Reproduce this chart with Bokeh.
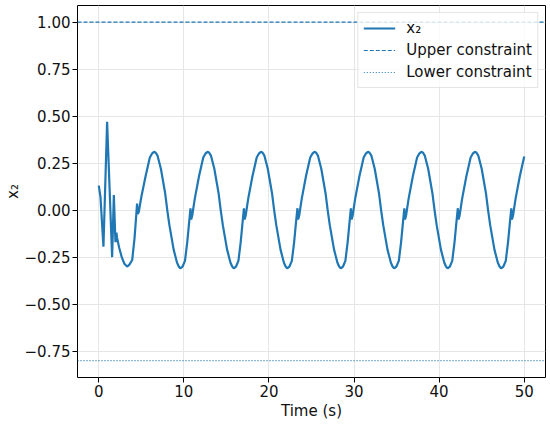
from bokeh.plotting import figure
from bokeh.models import FixedTicker, CustomJSTickFormatter, Legend, LegendItem
from bokeh.embed import file_html
from bokeh.resources import INLINE

# ---- data ----
t_start = [0.00, 0.20, 0.55, 0.98, 1.57, 1.77, 1.96, 2.08, 2.14, 2.40, 2.70, 3.00, 3.33, 3.60, 3.93, 4.20, 4.40]
x2_start = [0.13, 0.07, -0.195, 0.47, -0.25, 0.08, -0.17, -0.12, -0.145, -0.20, -0.25, -0.285, -0.30, -0.29, -0.265, -0.15, -0.03]

t_c0 = [4.50, 4.58, 4.70, 5.00, 5.50, 6.00, 6.25, 6.50, 6.70, 6.90, 7.30, 7.80, 8.05, 8.30, 8.80, 9.20, 9.40, 9.58, 9.85, 10.13, 10.40, 10.63]
x2_c0 = [0.035, -0.02, -0.01, 0.07, 0.18, 0.28, 0.30, 0.31, 0.305, 0.29, 0.22, 0.09, 0.00, -0.08, -0.21, -0.28, -0.30, -0.31, -0.30, -0.27, -0.17, -0.06]

t_c1 = [10.78, 10.86, 10.98, 11.28, 11.78, 12.28, 12.53, 12.78, 12.98, 13.18, 13.58, 14.08, 14.33, 14.58, 15.08, 15.48, 15.68, 15.86, 16.13, 16.41, 16.68, 16.91]
x2_c1 = [0.01, -0.05, -0.03, 0.06, 0.18, 0.28, 0.30, 0.31, 0.305, 0.29, 0.22, 0.09, 0.00, -0.08, -0.21, -0.28, -0.30, -0.31, -0.30, -0.27, -0.17, -0.06]

t_c2 = [17.06, 17.14, 17.26, 17.56, 18.06, 18.56, 18.81, 19.06, 19.26, 19.46, 19.86, 20.36, 20.61, 20.86, 21.36, 21.76, 21.96, 22.14, 22.41, 22.69, 22.96, 23.19]
x2_c2 = [0.01, -0.05, -0.03, 0.06, 0.18, 0.28, 0.30, 0.31, 0.305, 0.29, 0.22, 0.09, 0.00, -0.08, -0.21, -0.28, -0.30, -0.31, -0.30, -0.27, -0.17, -0.06]

t_c3 = [23.35, 23.43, 23.55, 23.85, 24.35, 24.85, 25.10, 25.35, 25.55, 25.75, 26.15, 26.65, 26.90, 27.15, 27.65, 28.05, 28.25, 28.43, 28.70, 28.98, 29.25, 29.48]
x2_c3 = [0.01, -0.05, -0.03, 0.06, 0.18, 0.28, 0.30, 0.31, 0.305, 0.29, 0.22, 0.09, 0.00, -0.08, -0.21, -0.28, -0.30, -0.31, -0.30, -0.27, -0.17, -0.06]

t_c4 = [29.63, 29.71, 29.83, 30.13, 30.63, 31.13, 31.38, 31.63, 31.83, 32.03, 32.43, 32.93, 33.18, 33.43, 33.93, 34.33, 34.53, 34.71, 34.98, 35.26, 35.53, 35.76]
x2_c4 = [0.01, -0.05, -0.03, 0.06, 0.18, 0.28, 0.30, 0.31, 0.305, 0.29, 0.22, 0.09, 0.00, -0.08, -0.21, -0.28, -0.30, -0.31, -0.30, -0.27, -0.17, -0.06]

t_c5 = [35.91, 35.99, 36.11, 36.41, 36.91, 37.41, 37.66, 37.91, 38.11, 38.31, 38.71, 39.21, 39.46, 39.71, 40.21, 40.61, 40.81, 40.99, 41.26, 41.54, 41.81, 42.04]
x2_c5 = [0.01, -0.05, -0.03, 0.06, 0.18, 0.28, 0.30, 0.31, 0.305, 0.29, 0.22, 0.09, 0.00, -0.08, -0.21, -0.28, -0.30, -0.31, -0.30, -0.27, -0.17, -0.06]

t_c6 = [42.20, 42.28, 42.40, 42.70, 43.20, 43.70, 43.95, 44.20, 44.40, 44.60, 45.00, 45.50, 45.75, 46.00, 46.50, 46.90, 47.10, 47.28, 47.55, 47.83, 48.10, 48.33]
x2_c6 = [0.01, -0.05, -0.03, 0.06, 0.18, 0.28, 0.30, 0.31, 0.305, 0.29, 0.22, 0.09, 0.00, -0.08, -0.21, -0.28, -0.30, -0.31, -0.30, -0.27, -0.17, -0.06]

t_end = [48.48, 48.56, 48.68, 48.98, 49.48, 50.00]
x2_end = [0.01, -0.05, -0.03, 0.06, 0.18, 0.285]

upper_constraint = 1.0
lower_constraint = -0.8

x_ticks = [0, 10, 20, 30, 40, 50]
y_ticks = [-0.75, -0.50, -0.25, 0.00, 0.25, 0.50, 0.75, 1.00]
x_label = "Time (s)"
y_label = "x\u2082"

t = t_start + t_c0 + t_c1 + t_c2 + t_c3 + t_c4 + t_c5 + t_c6 + t_end
x2 = x2_start + x2_c0 + x2_c1 + x2_c2 + x2_c3 + x2_c4 + x2_c5 + x2_c6 + x2_end

BLUE = "#1f77b4"
FONT = "DejaVu Sans"

p = figure(frame_width=468, frame_height=372, x_range=(-2.5, 52.5), y_range=(-0.89, 1.088),
           output_backend="svg", toolbar_location=None,
           min_border_left=77, min_border_right=5, min_border_top=5, min_border_bottom=47)

p.background_fill_color = "white"
p.outline_line_color = "black"
p.outline_line_width = 1

r_x2 = p.line(t, x2, line_color=BLUE, line_width=2.2)
r_up = p.line([-2.5, 52.5], [upper_constraint, upper_constraint], line_color=BLUE, line_width=1.2, line_dash="4 2")
r_lo = p.line([-2.5, 52.5], [lower_constraint, lower_constraint], line_color=BLUE, line_width=1.2, line_dash="1 2")

for ax in (p.xaxis[0], p.yaxis[0]):
    ax.axis_line_color = None
    ax.major_tick_line_color = "black"
    ax.major_tick_out = 5
    ax.major_tick_in = 0
    ax.minor_tick_line_color = None
    ax.major_label_text_font = FONT
    ax.major_label_text_font_size = "15px"
    ax.major_label_text_color = "#111111"
    ax.axis_label_text_font = FONT
    ax.axis_label_text_font_size = "15px"
    ax.axis_label_text_font_style = "normal"
    ax.axis_label_text_color = "#111111"

p.xaxis.ticker = FixedTicker(ticks=x_ticks)
p.yaxis.ticker = FixedTicker(ticks=y_ticks)
p.yaxis.formatter = CustomJSTickFormatter(code="return tick.toFixed(2).replace('-', '\u2212');")
p.xaxis.formatter = CustomJSTickFormatter(code="return tick.toFixed(0);")
p.xaxis.axis_label = x_label
p.yaxis.axis_label = y_label
p.xaxis.major_label_standoff = 2
p.xaxis.axis_label_standoff = 2
p.yaxis.major_label_standoff = 2
p.yaxis.axis_label_standoff = 0

p.xgrid.grid_line_color = "#e6e6e6"
p.ygrid.grid_line_color = "#e6e6e6"
p.xgrid.grid_line_width = 1
p.ygrid.grid_line_width = 1

legend = Legend(items=[
    LegendItem(label="x\u2082", renderers=[r_x2]),
    LegendItem(label="Upper constraint", renderers=[r_up]),
    LegendItem(label="Lower constraint", renderers=[r_lo]),
], location="top_right")
legend.label_text_font = FONT
legend.label_text_font_size = "15px"
legend.label_text_color = "#111111"
legend.glyph_width = 32
legend.glyph_height = 20
legend.label_standoff = 11
legend.spacing = 2
legend.padding = 5
legend.margin = 7
legend.border_line_color = "#cccccc"
legend.border_line_width = 1
legend.background_fill_color = "white"
legend.background_fill_alpha = 0.8
p.add_layout(legend)

open("out.html", "w").write(file_html(p, INLINE))
